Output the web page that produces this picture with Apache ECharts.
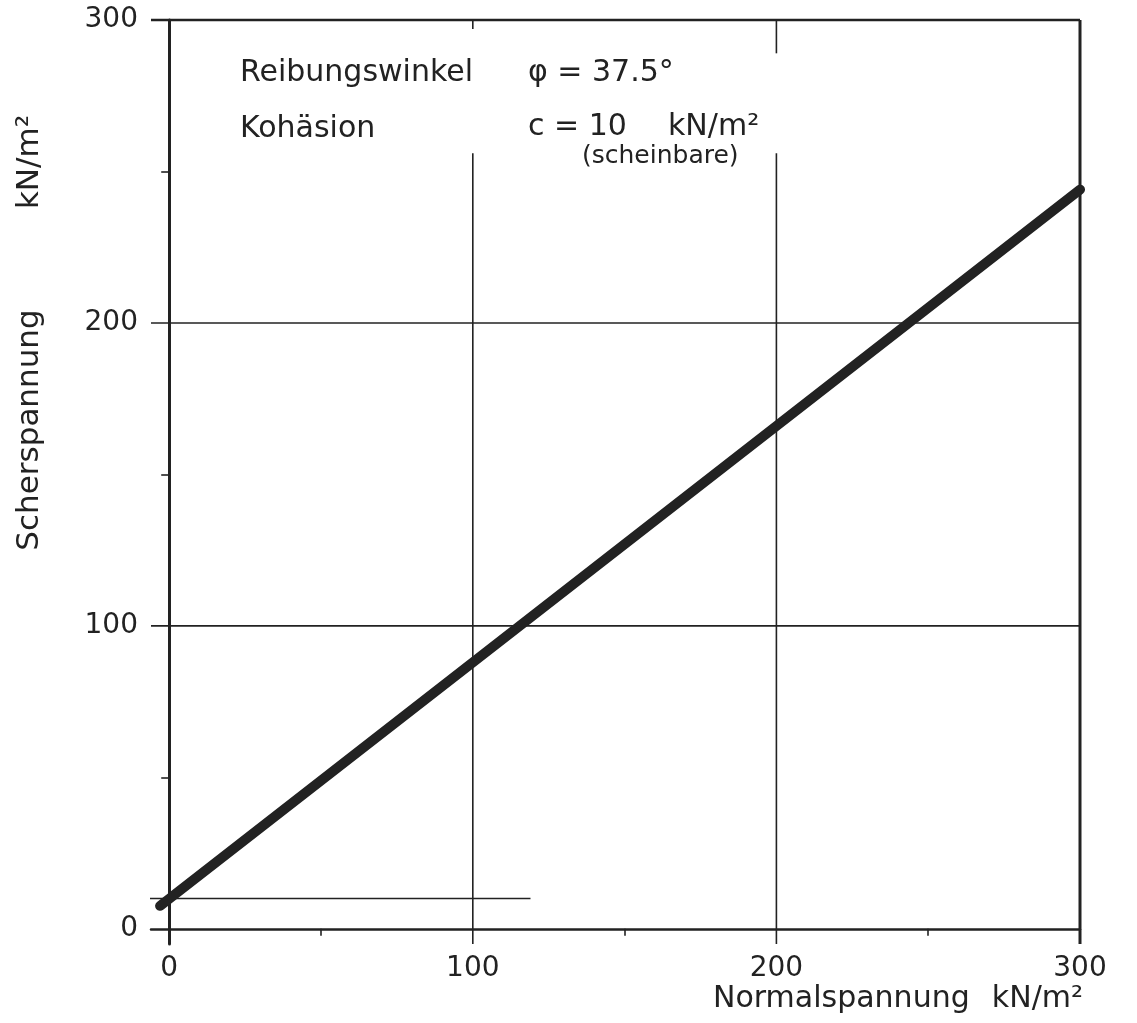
<!DOCTYPE html>
<html>
<head>
<meta charset="utf-8">
<script src="https://cdn.jsdelivr.net/npm/echarts@6/dist/echarts.min.js"></script>
<style>html,body{margin:0;padding:0;background:#fff}#c{width:1137px;height:1023px}</style>
</head>
<body>
<div id="c"></div>
<script>
// Data
const xTickLabels = [0, 100, 200, 300];
const yTickLabels = [0, 100, 200, 300];
const xMinorTicks = [50, 150, 250];
const yMinorTicks = [50, 150, 250];
// Mohr-Coulomb failure line (Normalspannung, Scherspannung)
const failureLine = [[-3, 7.6], [300, 244]];
// Cohesion reference line c = 10
const cohesionLine = [[-7.3, 10], [119, 10]];
// Vertical grid segments: [x, yFrom, yTo]
const gridV = [[100, -5, 256], [100, 297, 300], [200, -5, 256], [200, 289, 300], [300, -5, 300]];
// Horizontal grid segments: [y, xFrom, xTo]
const gridH = [[100, -6, 300], [200, -6, 300], [300, -6, 300]];

const INK = '#222';
const FONT = 'DejaVu Sans';
const chart = echarts.init(document.getElementById('c'));

const series = [];
gridV.forEach(g => series.push({
  type: 'line', data: [[g[0], g[1]], [g[0], g[2]]], symbol: 'none', silent: true,
  lineStyle: { color: INK, width: g[0] === 300 ? 3 : 1.6 }, clip: false
}));
gridH.forEach(g => series.push({
  type: 'line', data: [[g[1], g[0]], [g[2], g[0]]], symbol: 'none', silent: true,
  lineStyle: { color: INK, width: g[0] === 300 ? 2.5 : 1.6 }, clip: false
}));
series.push({
  type: 'line', data: cohesionLine, symbol: 'none', silent: true, clip: false,
  lineStyle: { color: INK, width: 1.6 }
});
series.push({
  type: 'line', data: failureLine, symbol: 'none', silent: true, clip: true,
  lineStyle: { color: INK, width: 10, cap: 'round' }
});

const txt = (left, top, text, size) => ({ type: 'text', left: left, top: top, style: { text: text, fill: INK, font: size + 'px ' + FONT } });

chart.setOption({
  animation: false,
  backgroundColor: '#fff',
  grid: { left: 151, right: 57, top: 20, bottom: 79 },
  xAxis: {
    type: 'value', min: -6, max: 300,
    axisLine: { show: true, onZero: true, lineStyle: { color: INK, width: 2.5 } },
    axisTick: { show: true, customValues: xMinorTicks, length: 7, inside: false, lineStyle: { color: INK, width: 1.6 } },
    axisLabel: { customValues: xTickLabels, margin: 11, color: INK, fontFamily: FONT, fontSize: 28 },
    splitLine: { show: false }
  },
  yAxis: {
    type: 'value', min: -5, max: 300,
    axisLine: { show: true, onZero: true, lineStyle: { color: INK, width: 3 } },
    axisTick: { show: true, customValues: yMinorTicks, length: 8, inside: false, lineStyle: { color: INK, width: 1.6 } },
    axisLabel: { customValues: yTickLabels, margin: 13, color: INK, fontFamily: FONT, fontSize: 28 },
    splitLine: { show: false }
  },
  series: series,
  graphic: [
    txt(240, 58, 'Reibungswinkel', 30),
    txt(528, 58, 'φ = 37.5°', 30),
    txt(240, 114, 'Kohäsion', 30),
    txt(528, 112, 'c = 10', 30),
    txt(668, 112, 'kN/m²', 30),
    txt(582, 144, '(scheinbare)', 25),
    { type: 'text', x: 30, y: 430, rotation: Math.PI / 2,
      style: { text: 'Scherspannung', fill: INK, font: '31px ' + FONT, align: 'center', verticalAlign: 'middle' } },
    { type: 'text', x: 30, y: 162, rotation: Math.PI / 2,
      style: { text: 'kN/m²', fill: INK, font: '31px ' + FONT, align: 'center', verticalAlign: 'middle' } },
    { type: 'text', x: 713, y: 999,
      style: { text: 'Normalspannung', fill: INK, font: '30px ' + FONT, align: 'left', verticalAlign: 'middle' } },
    { type: 'text', x: 1083, y: 999,
      style: { text: 'kN/m²', fill: INK, font: '30px ' + FONT, align: 'right', verticalAlign: 'middle' } }
  ]
});
</script>
</body>
</html>
